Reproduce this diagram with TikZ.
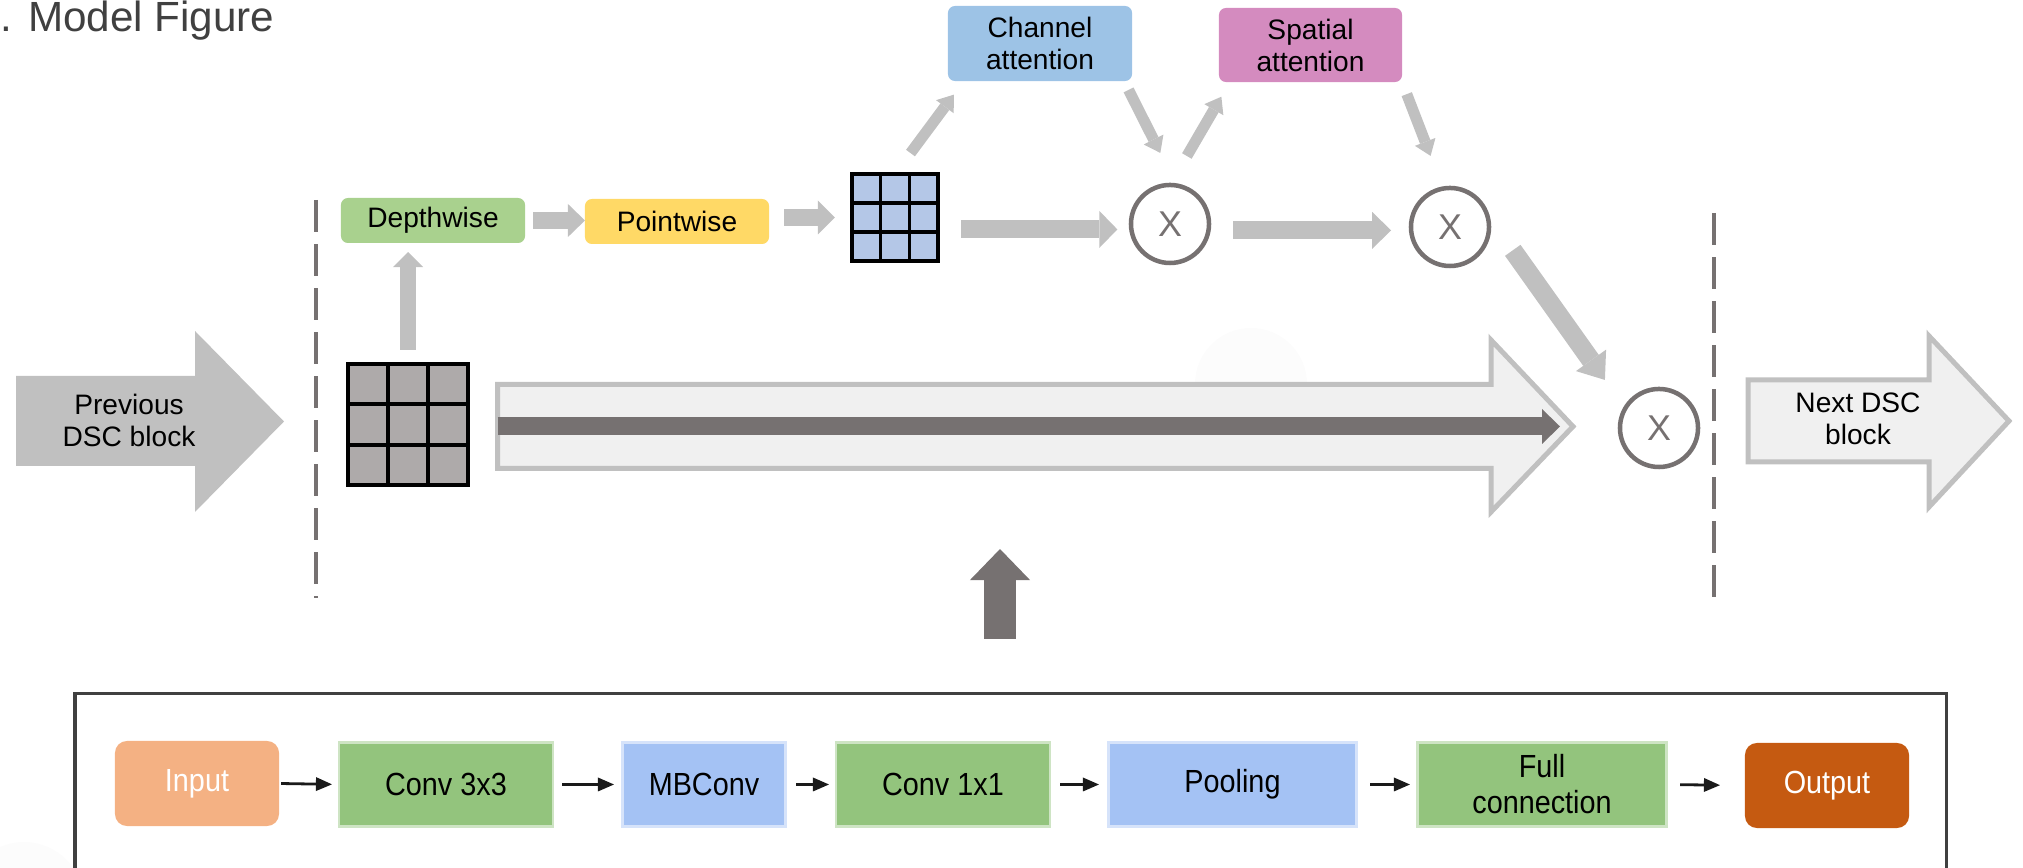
\documentclass[tikz,border=0pt]{standalone}
\usepackage{fontspec}
\setmainfont{Liberation Sans}
\newfontfamily\narrowsans[FakeStretch=0.9]{Liberation Sans}
\usetikzlibrary{arrows.meta,calc}
\definecolor{lgray}{HTML}{C0C0C0}
\definecolor{dgray}{HTML}{767171}
\definecolor{lfill}{HTML}{F0F0F0}
\definecolor{dwgreen}{HTML}{A9D18E}
\definecolor{pwyellow}{HTML}{FFD966}
\definecolor{chblue}{HTML}{9DC3E6}
\definecolor{sppink}{HTML}{D48BBF}
\definecolor{gridblue}{HTML}{B4C7E7}
\definecolor{gridgray}{HTML}{AEAAAA}
\definecolor{inorange}{HTML}{F4B183}
\definecolor{outorange}{HTML}{C55A11}
\definecolor{bgreen}{HTML}{93C47D}
\definecolor{bblue}{HTML}{A4C2F4}
\definecolor{framegray}{HTML}{404040}
\definecolor{arrowblack}{HTML}{1A1A1A}
\definecolor{faint}{HTML}{FCFCFC}
\tikzset{
  plainlabel/.style={font=\fontsize{8pt}{9.1pt}\selectfont, align=center, inner sep=0, outer sep=0, text=black},
  toplabel/.style={plainlabel, rounded corners=0.07cm},
  gridbox/.style={draw=black, line width=0.04cm, inner sep=0, outer sep=0},
  mult/.style={circle, draw=dgray, line width=0.045cm, fill=white, minimum size=0.78cm, inner sep=0, outer sep=0, text=dgray, font=\fontsize{10.2pt}{12pt}\selectfont},
  bigarrow/.style={draw=lgray, line width=0.05cm, fill=lfill, line join=miter},
  dashsep/.style={draw=dgray, line width=0.035cm, dash pattern=on 0.32cm off 0.12cm},
  gar/.style n args={3}{draw=lgray, line width=#1, -{Triangle[length=#2, width=#3, line width=0pt]}},
  dar/.style n args={3}{draw=dgray, line width=#1, -{Triangle[length=#2, width=#3, line width=0pt]}},
  flowbox/.style={minimum height=0.81cm, inner sep=0, outer sep=0, font=\narrowsans\fontsize{9.1pt}{10.2pt}\selectfont, align=center, text=black},
  blurbox/.style={flowbox, fill=#1, draw=#1, draw opacity=0.45, line width=0.05cm},
  endbox/.style={flowbox, fill=#1, minimum height=0.85cm, rounded corners=0.12cm, text=white},
  flowarrow/.style={draw=arrowblack, line width=0.028cm, -{Triangle[length=0.16cm, width=0.14cm, line width=0pt]}},
}
\begin{document}
\begin{tikzpicture}[x=0.01cm,y=-0.01cm]
\useasboundingbox (0,0) rectangle (2023,868);

% faint background blobs
\fill[faint] (1251,384) circle (0.56cm);
\fill[faint] (24,902) circle (0.6cm);

% title
\node[anchor=base west, inner sep=0, text=framegray, font=\fontsize{12pt}{14pt}\selectfont] (title) at (0,32) {. Model Figure};

% dashed separators
\draw[dashsep] (316,200) -- (316,598);
\draw[dashsep] (1714,213) -- (1714,597);

% previous DSC block arrow
\fill[lgray] (16,376) -- (195,376) -- (195,331) -- (284,421.5) -- (195,512) -- (195,466) -- (16,466) -- cycle;
\node[plainlabel] (prev) at (129,420) {Previous\\DSC block};

% skip connection arrow
\draw[bigarrow] (497.5,384.5) -- (1491,384.5) -- (1491,340) -- (1573,426.5) -- (1491,512) -- (1491,468.5) -- (497.5,468.5) -- cycle;
\coordinate (skl) at (497.5,426.5);
\coordinate (skr) at (1560,426.5);
\coordinate (skipb) at (1000,468.5);
\draw[dar={0.18cm}{0.18cm}{0.35cm}] (skl) -- (skr);

% next DSC block arrow
\draw[bigarrow] (1748,380) -- (1929,380) -- (1929,336) -- (2009,421) -- (1929,507) -- (1929,462) -- (1748,462) -- cycle;
\node[plainlabel] (next) at (1858,419) {Next DSC\\block};

% top boxes
\node[toplabel, fill=dwgreen, minimum width=1.84cm, minimum height=0.45cm] (dw) at (433,220.5) {Depthwise};
\node[toplabel, fill=pwyellow, minimum width=1.84cm, minimum height=0.45cm] (pw) at (677,221.5) {Pointwise};
\node[toplabel, fill=chblue, minimum width=1.84cm, minimum height=0.75cm] (ch) at (1040,43.5) {Channel\\attention};
\node[toplabel, fill=sppink, minimum width=1.83cm, minimum height=0.74cm] (sp) at (1310.5,45) {Spatial\\attention};

% gray grid
\node[gridbox, fill=gridgray, minimum width=1.2cm, minimum height=1.21cm] (gg) at (408,424.5) {};
\foreach \f in {0.3333,0.6667}{
  \draw[line width=0.04cm] ($(gg.north west)!\f!(gg.north east)$) -- ($(gg.south west)!\f!(gg.south east)$);
  \draw[line width=0.04cm] ($(gg.north west)!\f!(gg.south west)$) -- ($(gg.north east)!\f!(gg.south east)$);
}
% blue grid
\node[gridbox, fill=gridblue, minimum width=0.86cm, minimum height=0.87cm] (bg) at (895,217.5) {};
\foreach \f in {0.3333,0.6667}{
  \draw[line width=0.032cm] ($(bg.north west)!\f!(bg.north east)$) -- ($(bg.south west)!\f!(bg.south east)$);
  \draw[line width=0.032cm] ($(bg.north west)!\f!(bg.south west)$) -- ($(bg.north east)!\f!(bg.south east)$);
}

% multiply nodes
\node[mult] (x1) at (1170,224) {X};
\node[mult] (x2) at (1450,227) {X};
\node[mult] (x3) at (1659,428) {X};

% gray connectors
\draw[gar={0.16cm}{0.15cm}{0.30cm}, shorten <=0.14cm, shorten >=0.09cm] (gg.north) -- (gg.north |- dw.south);
\draw[gar={0.17cm}{0.17cm}{0.33cm}, shorten <=0.08cm] (dw.east) -- (dw.east -| pw.west);
\draw[gar={0.17cm}{0.17cm}{0.34cm}, shorten <=0.15cm, shorten >=0.17cm] (bg.west -| pw.east) -- (bg.west);
\draw[gar={0.18cm}{0.18cm}{0.37cm}, shorten <=0.23cm, shorten >=0.14cm] (x1.188 -| bg.east) -- (x1.188);
\draw[gar={0.18cm}{0.19cm}{0.37cm}, shorten <=0.24cm, shorten >=0.20cm] (x2.185 -| x1.east) -- (x2.185);
\draw[gar={0.11cm}{0.15cm}{0.22cm}, shorten <=0.26cm, shorten >=0.17cm] (bg.north) -- ($(ch.south west)+(16,0)$);
\draw[gar={0.11cm}{0.15cm}{0.22cm}, shorten <=0.10cm, shorten >=0.365cm] ($(ch.south east)+(-8,0)$) -- (x1.80);
\draw[gar={0.11cm}{0.15cm}{0.22cm}, shorten <=0.335cm, shorten >=0.17cm] (x1.north) -- ($(sp.south west)+(11,0)$);
\draw[gar={0.11cm}{0.15cm}{0.22cm}, shorten <=0.13cm, shorten >=0.35cm] (sp.south east) -- (x2.100);
\draw[gar={0.19cm}{0.24cm}{0.37cm}, shorten <=0.45cm, shorten >=0.35cm] (x2.20) -- (x3.150);

% bottom frame
\node[draw=framegray, line width=0.03cm, minimum width=18.7cm, minimum height=2.3cm, anchor=north west, inner sep=0, outer sep=0] (frame) at (75,694) {};
\coordinate (framet) at (1000,694);
\draw[dar={0.32cm}{0.31cm}{0.60cm}, shorten <=0.55cm, shorten >=0.805cm] (framet) -- (skipb);

% bottom flow
\node[endbox=inorange, minimum width=1.64cm] (in) at (197,783.5) {Input};
\node[blurbox=bgreen, minimum width=2.11cm] (c3) at (446,784.5) {Conv 3x3};
\node[blurbox=bblue, minimum width=1.60cm] (mb) at (704,784.5) {MBConv};
\node[blurbox=bgreen, minimum width=2.11cm] (c1) at (943,784.5) {Conv 1x1};
\node[blurbox=bblue, minimum width=2.45cm] (pool) at (1232.5,784.5) {Pooling};
\node[blurbox=bgreen, minimum width=2.46cm] (fc) at (1542,784.5) {Full\\connection};
\node[endbox=outorange, minimum width=1.64cm] (out) at (1827,785.5) {Output};

\draw[flowarrow, shorten <=0.02cm, shorten >=0.085cm] (in.east) -- (c3.west);
\draw[flowarrow, shorten <=0.105cm, shorten >=0.10cm] (c3.east) -- (mb.west);
\draw[flowarrow, shorten <=0.12cm, shorten >=0.085cm] (mb.east) -- (c1.west);
\draw[flowarrow, shorten <=0.115cm, shorten >=0.11cm] (c1.east) -- (pool.west);
\draw[flowarrow, shorten <=0.15cm, shorten >=0.09cm] (pool.east) -- (fc.west);
\draw[flowarrow, shorten <=0.15cm, shorten >=0.25cm] (fc.east) -- (out.west);
\end{tikzpicture}
\end{document}
